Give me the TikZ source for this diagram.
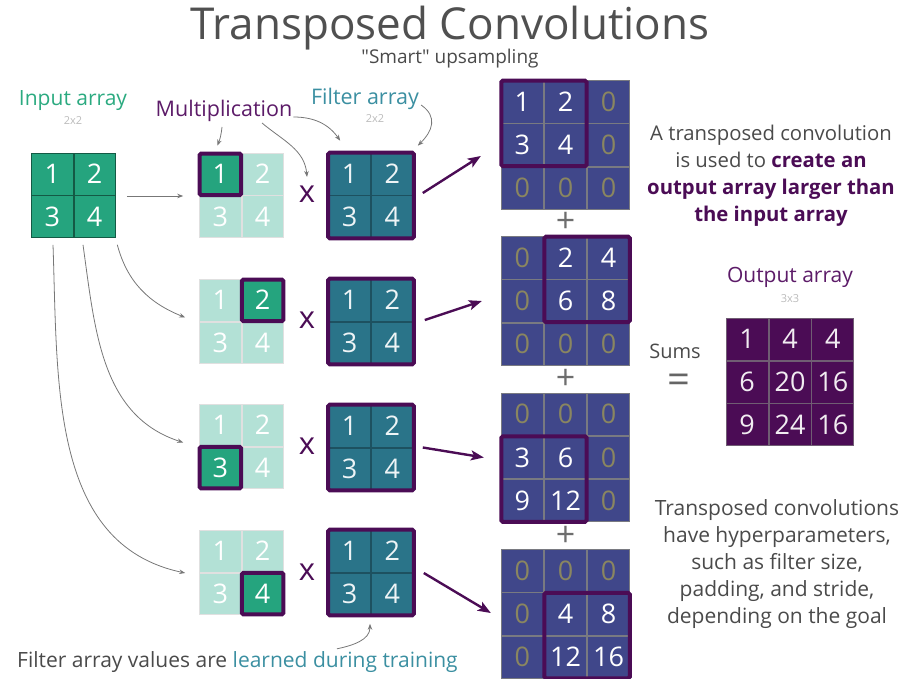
\documentclass[tikz,border=0pt]{standalone}
\usepackage{fontspec}
\setmainfont{Open Sans}
\usetikzlibrary{matrix,calc,arrows.meta}

\definecolor{ingreen}{HTML}{25A47E}
\definecolor{ltgreen}{HTML}{B3E1D6}
\definecolor{fltteal}{HTML}{2A7489}
\definecolor{outblue}{HTML}{40478A}
\definecolor{purp}{HTML}{4B0C55}
\definecolor{purptxt}{HTML}{5C1B68}
\definecolor{zerocol}{HTML}{8A8660}
\definecolor{txtgray}{HTML}{4A4A4A}
\definecolor{titlegray}{HTML}{505050}
\definecolor{sizegray}{HTML}{BBBBBB}
\definecolor{arrgray}{HTML}{777777}
\definecolor{labteal}{HTML}{3B8FA1}
\definecolor{labgreen}{HTML}{2BAA80}

\newcommand\fsz[1]{\fontsize{#1}{#1}\selectfont}
% straight double quote, set as a glyph so the tex-text mapping leaves it alone
\newcommand\dquote{\XeTeXglyph\XeTeXcharglyph"22\relax}

\begin{document}
\begin{tikzpicture}[x=1pt,y=-1pt,
  grid/.style={matrix of nodes, inner sep=0pt, outer sep=0pt,
               column sep=0pt, row sep=0pt},
  cellbase/.style={minimum size=#1, inner sep=0pt, outer sep=0pt, anchor=center,
               text height=19pt, text depth=0pt, font=\fsz{27}, text=white, line width=0.8pt},
  cellin/.style={cellbase=41.5pt, fill=ingreen, draw=black!45!ingreen},
  celllt/.style={cellbase=41.5pt, fill=ltgreen, draw=black!12, text=white},
  cellhi/.style={fill=ingreen},
  cellflt/.style={cellbase=42pt, fill=fltteal, draw=black!30!fltteal, text=white!92!fltteal},
  cellout/.style={cellbase=42.3pt, fill=outblue, draw=gray!90!outblue},
  zero/.style={text=zerocol},
  cellfin/.style={cellbase=42pt, fill=purp, draw=gray!70!purp, text=white!92!purp},
  hlbox/.style={draw=purp, line width=4pt, rounded corners=1.5pt},
  garrow/.style={draw=arrgray, line width=0.8pt, -{Stealth[length=6pt,width=4.5pt]}},
  parrow/.style={draw=purp, line width=2.4pt, -{Stealth[length=13pt,width=10pt,inset=3pt]}},
  lbl/.style={inner sep=0pt, anchor=center},
  timesign/.style={lbl, text=purp, font=\fsz{31}},
  plussign/.style={lbl, text=txtgray!80, font=\fsz{34}},
]
\useasboundingbox (0,0) rectangle (913,679);

% ---------- headings ----------
\node[lbl, text=titlegray, font=\fsz{44}] (title) at (450,28) {Transposed Convolutions};
\node[lbl, text=txtgray, font=\fsz{19}] (subtitle) at (450,59) {\dquote Smart\dquote{} upsampling};

\node[lbl, text=labgreen, font=\fsz{21}] (inlbl) at (73,101) {Input array};
\node[lbl, text=sizegray, font=\fsz{11}] (insize) at (73,121) {2x2};
\node[lbl, text=purptxt, font=\fsz{21.5}] (mult) at (224,111) {Multiplication};
\node[lbl, text=labteal, font=\fsz{21.5}] (fltlbl) at (365,99) {Filter array};
\node[lbl, text=sizegray, font=\fsz{11}] (fltsize) at (375,119) {2x2};

% ---------- input array ----------
\matrix[grid, nodes={cellin}] (in) at (73.5,195.5) {1 & 2 \\ 3 & 4 \\};

% ---------- selected input element, one per row ----------
\matrix[grid, nodes={celllt}] (l1) at (241.5,195.5) {|[cellhi]| 1 & 2 \\ 3 & 4 \\};
\matrix[grid, nodes={celllt}] (l2) at (241.5,321.5) {1 & |[cellhi]| 2 \\ 3 & 4 \\};
\matrix[grid, nodes={celllt}] (l3) at (241.5,446.5) {1 & 2 \\ |[cellhi]| 3 & 4 \\};
\matrix[grid, nodes={celllt}] (l4) at (241.5,572.5) {1 & 2 \\ 3 & |[cellhi]| 4 \\};
\draw[hlbox] (l1-1-1.north west) rectangle (l1-1-1.south east);
\draw[hlbox] (l2-1-2.north west) rectangle (l2-1-2.south east);
\draw[hlbox] (l3-2-1.north west) rectangle (l3-2-1.south east);
\draw[hlbox] (l4-2-2.north west) rectangle (l4-2-2.south east);

% ---------- multiplication signs ----------
\node[timesign] (x1) at (307,194) {x};
\node[timesign] (x2) at (307,320) {x};
\node[timesign] (x3) at (307,446) {x};
\node[timesign] (x4) at (307,572) {x};

% ---------- filter arrays ----------
\matrix[grid, nodes={cellflt}] (f1) at (371,195.5) {1 & 2 \\ 3 & 4 \\};
\matrix[grid, nodes={cellflt}] (f2) at (371,321.5) {1 & 2 \\ 3 & 4 \\};
\matrix[grid, nodes={cellflt}] (f3) at (371,447.5) {1 & 2 \\ 3 & 4 \\};
\matrix[grid, nodes={cellflt}] (f4) at (371,572.5) {1 & 2 \\ 3 & 4 \\};
\foreach \f in {f1,f2,f3,f4}
  \draw[hlbox] (\f.north west) rectangle (\f.south east);

% ---------- partial outputs ----------
\matrix[grid, nodes={cellout}] (o1) at (565.5,145)
  {1 & 2 & |[zero]| 0 \\ 3 & 4 & |[zero]| 0 \\ |[zero]| 0 & |[zero]| 0 & |[zero]| 0 \\};
\matrix[grid, nodes={cellout}] (o2) at (565.5,301)
  {|[zero]| 0 & 2 & 4 \\ |[zero]| 0 & 6 & 8 \\ |[zero]| 0 & |[zero]| 0 & |[zero]| 0 \\};
\matrix[grid, nodes={cellout}] (o3) at (565.5,457.5)
  {|[zero]| 0 & |[zero]| 0 & |[zero]| 0 \\ 3 & 6 & |[zero]| 0 \\ 9 & 12 & |[zero]| 0 \\};
\matrix[grid, nodes={cellout}] (o4) at (565.5,614)
  {|[zero]| 0 & |[zero]| 0 & |[zero]| 0 \\ |[zero]| 0 & 4 & 8 \\ |[zero]| 0 & 12 & 16 \\};
\draw[hlbox] (o1-1-1.north west) rectangle (o1-2-2.south east);
\draw[hlbox] (o2-1-2.north west) rectangle (o2-2-3.south east);
\draw[hlbox] (o3-2-1.north west) rectangle (o3-3-2.south east);
\draw[hlbox] (o4-2-2.north west) rectangle (o4-3-3.south east);

\node[plussign] (plus1) at (565.5,222) {+};
\node[plussign] (plus2) at (565.5,379) {+};
\node[plussign] (plus3) at (565.5,536) {+};

% ---------- final output ----------
\node[lbl, text=purptxt, font=\fsz{21}] (outlbl) at (790,277) {Output array};
\node[lbl, text=sizegray, font=\fsz{11}] (outsize) at (790,299) {3x3};
\matrix[grid, nodes={cellfin}] (fin) at (790,382)
  {1 & 4 & 4 \\ 6 & 20 & 16 \\ 9 & 24 & 16 \\};
\node[lbl, text=txtgray, font=\fsz{20}] (sums) at (675,351) {Sums};
\node[lbl, text=txtgray!85, font=\fsz{40}] (eq) at (679,384) {=};

% ---------- explanatory text ----------
\node[lbl, text=txtgray, font=\fsz{20.3}, align=center,
      execute at begin node=\setlength{\baselineskip}{27pt}] (note1) at (771,175.5)
  {A transposed convolution\\
   is used to \textcolor{purp}{\textbf{create an}}\\
   \textcolor{purp}{\textbf{output array larger than}}\\
   \textcolor{purp}{\textbf{the input array}}};
\node[lbl, text=txtgray, font=\fsz{21}, align=center,
      execute at begin node=\setlength{\baselineskip}{26.8pt}] (note2) at (777,564)
  {Transposed convolutions\\ have hyperparameters,\\ such as filter size,\\
   padding, and stride,\\ depending on the goal};
\node[inner sep=0pt, anchor=west, text=txtgray, font=\fsz{21}] (bottom) at (17,662)
  {Filter array values are \textcolor{labteal}{learned during training}};

% ---------- connectors: input to selections ----------
\draw[garrow] ($(in.east)+(11,0.5)$) -- ($(l1.west)+(-16,0.5)$);
\draw[garrow] ($(in.south east)+(1.5,7)$) to[out=-75,in=158] ($(l2.west)+(-14,-4)$);
\draw[garrow] ($(in.south)+(9.5,7)$) to[out=-82,in=162] ($(l3.west)+(-16,-4)$);
\draw[garrow] ($(in.south)+(-20.5,7)$) to[out=-88,in=168] ($(l4.west)+(-14,0.5)$);

% ---------- label connectors ----------
\draw[garrow] ($(mult.center)+(-2,16)$) to[bend left=8] ($(l1-1-1.north)+(-3,-8)$);
\draw[garrow] ($(mult.center)+(38,12)$) to[out=-40,in=95] ($(x1.center)+(0,-17)$);
\draw[garrow] ($(mult.east)+(1,6)$) to[out=0,in=125] ($(f1.north west)+(12,-12)$);
\draw[garrow] ($(fltlbl.east)+(2,6)$) to[out=-35,in=45,looseness=1.3] ($(f1.north east)+(4,-7)$);
\draw[garrow] ($(f4.south)+(-34,33.5)$) to[out=12,in=-90] ($(f4.south)+(-1,8.5)$);

% ---------- connectors: filters to partial outputs ----------
\draw[parrow] ($(f1.east)+(9,-2.5)$) -- ($(o1.west)+(-20,11)$);
\draw[parrow] ($(f2.east)+(11,-1.5)$) -- ($(o2.west)+(-19,0)$);
\draw[parrow] ($(f3.east)+(9,0)$) -- ($(o3.west)+(-17,0)$);
\draw[parrow] ($(f4.east)+(10,0.5)$) -- ($(o4.west)+(-10,-1)$);
\end{tikzpicture}
\end{document}
